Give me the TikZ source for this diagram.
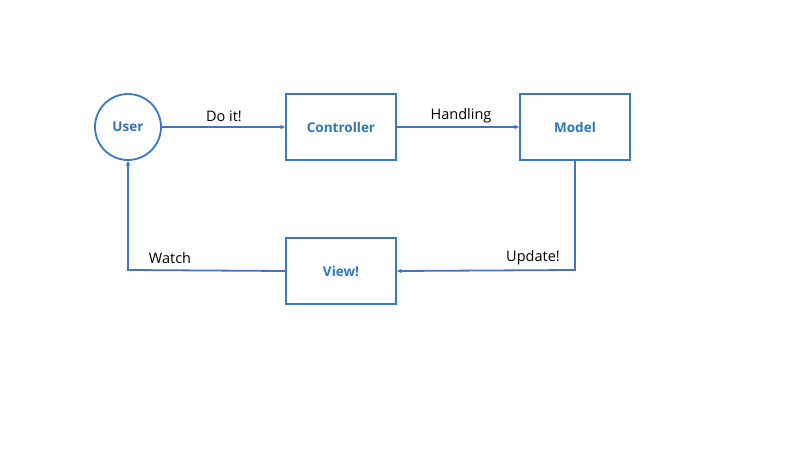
\documentclass[tikz,border=0pt]{standalone}
\usepackage{fontspec}
\setmainfont{Open Sans}
\usetikzlibrary{arrows.meta}
\definecolor{boxblue}{HTML}{3A78C2}
\definecolor{lineblue}{HTML}{4472C4}
\definecolor{txtblue}{HTML}{2E75B6}
\begin{document}
\begin{tikzpicture}[x=1pt,y=-1pt,
  blockbox/.style={draw=boxblue,line width=1.8pt,minimum width=110pt,minimum height=66pt,inner sep=0pt,
    font=\fontsize{13.5}{15}\selectfont\bfseries,text=txtblue},
  circbox/.style={circle,draw=boxblue,line width=1.8pt,minimum size=66pt,inner sep=0pt,
    font=\fontsize{13.5}{15}\selectfont\bfseries,text=txtblue},
  conn/.style={draw=lineblue,line width=1.8pt,-{Stealth[length=5pt,width=4.5pt]}},
  lbl/.style={font=\fontsize{14.5}{16}\selectfont,text=black,inner sep=0pt}]
\useasboundingbox (0,0) rectangle (800,450);
\node[circbox] (user) at (128,127) {User};
\node[blockbox] (ctrl) at (341,127) {Controller};
\node[blockbox] (model) at (575,127) {Model};
\node[blockbox] (view) at (341,271) {View!};
\coordinate (mc) at (575,270);
\coordinate (uc) at (128,270);
\draw[conn] (user) -- (ctrl);
\draw[conn] (ctrl) -- (model);
\draw[conn] (model.south) -- (mc) -- (view.east);
\draw[conn] (view.west) -- (uc) -- (user.south);
\node[lbl] (l1) at (224,116) {Do it!};
\node[lbl] (l2) at (461,116) {Handling};
\node[lbl] (l3) at (533,258) {Update!};
\node[lbl] (l4) at (170,258) {Watch};
\end{tikzpicture}
\end{document}
